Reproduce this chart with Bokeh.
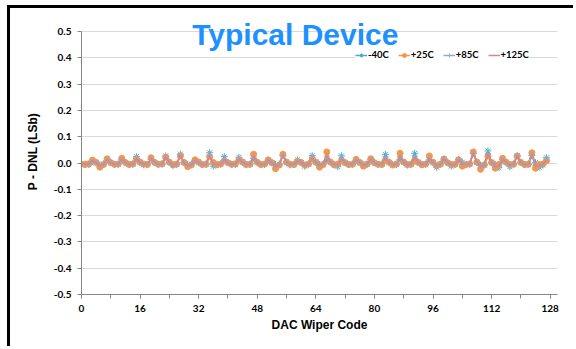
from bokeh.plotting import figure
from bokeh.models import Range1d, FixedTicker, PrintfTickFormatter, Legend, LegendItem, Label
from bokeh.embed import file_html
from bokeh.resources import INLINE

codes = list(range(128))

m40 = [
    -0.005, -0.004, -0.006, 0.006,
    0.001, -0.008, -0.004, 0.010,
    0.002, -0.006, -0.005, 0.012,
    0.001, -0.005, -0.004, 0.024,
    0.003, -0.007, -0.005, 0.014,
    0.002, -0.006, -0.004, 0.027,
    0.003, -0.010, -0.006, 0.034,
    0.002, -0.005, -0.004, 0.008,
    0.001, -0.006, -0.004, 0.039,
    -0.012, -0.005, -0.004, 0.024,
    0.002, -0.006, -0.005, 0.022,
    0.003, -0.007, -0.004, 0.018,
    0.001, -0.005, -0.006, 0.010,
    0.002, -0.006, -0.004, 0.028,
    0.001, -0.007, -0.005, 0.012,
    0.002, -0.012, -0.004, 0.028,
    0.003, -0.006, -0.005, 0.010,
    0.002, -0.005, -0.014, 0.027,
    0.001, -0.006, -0.004, 0.010,
    0.002, -0.007, -0.005, 0.012,
    0.003, -0.006, -0.004, 0.033,
    0.001, -0.005, -0.006, 0.014,
    0.002, -0.008, -0.004, 0.037,
    0.003, -0.006, -0.005, 0.012,
    0.001, -0.016, -0.004, 0.016,
    0.002, -0.012, -0.005, 0.014,
    0.003, -0.006, -0.004, 0.036,
    0.002, -0.008, -0.006, 0.046,
    0.001, -0.005, -0.018, 0.012,
    0.002, -0.014, -0.004, 0.028,
    0.003, -0.006, -0.005, 0.028,
    0.001, -0.016, -0.008, 0.020,
]

p25 = [
    -0.004, -0.006, -0.003, 0.011,
    0.002, -0.016, -0.006, 0.016,
    0.001, -0.005, -0.004, 0.018,
    0.002, -0.006, -0.004, 0.015,
    0.003, -0.004, -0.006, 0.020,
    0.002, -0.005, -0.003, 0.022,
    0.003, -0.006, -0.004, 0.027,
    0.002, -0.014, -0.008, 0.012,
    0.004, -0.006, -0.005, 0.024,
    0.002, -0.007, -0.004, 0.008,
    0.001, -0.005, -0.003, 0.012,
    0.004, -0.006, -0.005, 0.033,
    0.003, -0.006, -0.004, 0.012,
    0.001, -0.022, -0.008, 0.033,
    0.004, -0.005, -0.006, 0.006,
    0.002, -0.008, -0.004, 0.016,
    0.003, -0.016, -0.006, 0.042,
    0.004, -0.007, -0.004, 0.008,
    0.001, -0.006, -0.005, 0.014,
    0.002, -0.012, -0.004, 0.016,
    0.001, -0.005, -0.006, 0.010,
    0.003, -0.008, -0.004, 0.037,
    0.004, -0.006, -0.005, 0.010,
    0.002, -0.007, -0.004, 0.027,
    0.003, -0.010, -0.005, 0.014,
    0.001, -0.006, -0.005, 0.012,
    -0.012, -0.006, -0.004, 0.042,
    0.004, -0.024, -0.008, 0.026,
    0.002, -0.020, -0.006, 0.018,
    0.003, -0.006, -0.005, 0.026,
    0.002, -0.006, -0.005, 0.039,
    -0.020, -0.006, -0.004, 0.008,
]

p85 = [
    -0.004, -0.005, -0.004, 0.008,
    0.001, -0.010, -0.005, 0.012,
    0.002, -0.005, -0.004, 0.014,
    0.001, -0.006, -0.005, 0.018,
    0.002, -0.005, -0.005, 0.016,
    0.002, -0.006, -0.004, 0.022,
    0.002, -0.008, -0.005, 0.028,
    0.001, -0.010, -0.006, 0.010,
    0.002, -0.006, -0.005, 0.030,
    -0.006, -0.006, -0.004, 0.014,
    0.001, -0.005, -0.004, 0.016,
    0.003, -0.006, -0.005, 0.024,
    0.002, -0.005, -0.005, 0.011,
    0.001, -0.014, -0.006, 0.030,
    0.002, -0.006, -0.005, 0.009,
    0.002, -0.010, -0.004, 0.021,
    0.003, -0.010, -0.005, 0.026,
    0.003, -0.006, -0.009, 0.018,
    0.001, -0.006, -0.004, 0.012,
    0.002, -0.009, -0.005, 0.014,
    0.002, -0.006, -0.005, 0.022,
    0.002, -0.006, -0.005, 0.025,
    0.003, -0.007, -0.004, 0.024,
    0.002, -0.006, -0.005, 0.019,
    0.002, -0.012, -0.004, 0.015,
    0.001, -0.009, -0.005, 0.013,
    -0.005, -0.006, -0.004, 0.038,
    0.003, -0.016, -0.007, 0.036,
    0.001, -0.012, -0.012, 0.015,
    0.002, -0.010, -0.004, 0.027,
    0.002, -0.006, -0.005, 0.033,
    -0.009, -0.011, -0.006, 0.014,
]

p125 = [
    -0.003, -0.005, -0.003, 0.009,
    0.002, -0.011, -0.005, 0.013,
    0.001, -0.005, -0.004, 0.015,
    0.002, -0.006, -0.004, 0.017,
    0.002, -0.004, -0.005, 0.018,
    0.002, -0.005, -0.004, 0.021,
    0.003, -0.007, -0.005, 0.029,
    0.002, -0.011, -0.006, 0.011,
    0.003, -0.006, -0.005, 0.029,
    -0.005, -0.006, -0.004, 0.013,
    0.001, -0.005, -0.004, 0.015,
    0.003, -0.006, -0.005, 0.026,
    0.002, -0.006, -0.005, 0.012,
    0.001, -0.015, -0.006, 0.031,
    0.003, -0.005, -0.005, 0.008,
    0.002, -0.009, -0.004, 0.020,
    0.003, -0.011, -0.005, 0.028,
    0.003, -0.006, -0.008, 0.017,
    0.001, -0.005, -0.004, 0.012,
    0.002, -0.010, -0.005, 0.015,
    0.002, -0.005, -0.005, 0.020,
    0.002, -0.007, -0.005, 0.027,
    0.003, -0.007, -0.004, 0.022,
    0.002, -0.006, -0.005, 0.020,
    0.002, -0.011, -0.004, 0.015,
    0.001, -0.008, -0.006, 0.013,
    -0.006, -0.006, -0.004, 0.039,
    0.003, -0.017, -0.007, 0.034,
    0.001, -0.013, -0.011, 0.016,
    0.002, -0.009, -0.004, 0.027,
    0.002, -0.007, -0.005, 0.034,
    -0.010, -0.010, -0.006, 0.013,
]

series_names = ["-40C", "+25C", "+85C", "+125C"]
x_ticks = [0, 16, 32, 48, 64, 80, 96, 112, 128]
x_minor_ticks = [0, 8, 16, 24, 32, 40, 48, 56, 64, 72, 80, 88, 96, 104, 112, 120, 128]
y_ticks = [-0.5, -0.4, -0.3, -0.2, -0.1, 0.0, 0.1, 0.2, 0.3, 0.4, 0.5]
title_text = "Typical Device"
x_label = "DAC Wiper Code"
y_label = "P - DNL (LSb)"

TICK_FONT = "Lato"
LABEL_FONT = "Liberation Sans"

# frame extended above 0.5 so the title (which overlaps the top gridline) is not clipped
p = figure(width=566, height=341, output_backend="svg", toolbar_location=None,
           x_range=Range1d(0, 130), y_range=Range1d(-0.5, 0.5875),
           min_border_left=71, min_border_right=19, min_border_top=0, min_border_bottom=55)
p.styles = {"margin-left": "7px", "margin-top": "5px",
            "border-left": "3px solid black", "border-top": "3px solid black"}
p.background_fill_color = "white"
p.border_fill_color = "white"
p.outline_line_color = None

p.xgrid.visible = False
p.ygrid.grid_line_color = "#D9D9D9"
p.ygrid.grid_line_width = 1

xa = p.xaxis[0]
xa.ticker = FixedTicker(ticks=x_ticks, minor_ticks=x_minor_ticks)
xa.axis_line_color = "#868686"
xa.major_tick_line_color = "#868686"
xa.minor_tick_line_color = "#868686"
xa.major_tick_out = 4
xa.major_tick_in = 0
xa.minor_tick_out = 4
xa.minor_tick_in = 0
xa.major_label_standoff = 6
xa.major_label_text_font = TICK_FONT
xa.major_label_text_font_style = "bold"
xa.major_label_text_font_size = "10px"
xa.major_label_text_color = "black"
xa.axis_label = x_label
xa.axis_label_text_font = LABEL_FONT
xa.axis_label_text_font_style = "bold"
xa.axis_label_text_font_size = "12px"
xa.axis_label_text_color = "black"
xa.axis_label_standoff = 3

ya = p.yaxis[0]
ya.ticker = FixedTicker(ticks=y_ticks)
ya.bounds = (-0.5, 0.5)
ya.formatter = PrintfTickFormatter(format="%.1f")
ya.axis_line_color = "#868686"
ya.major_tick_line_color = "#868686"
ya.minor_tick_line_color = None
ya.major_tick_out = 4
ya.major_tick_in = 0
ya.major_label_standoff = 6
ya.major_label_text_font = TICK_FONT
ya.major_label_text_font_style = "bold"
ya.major_label_text_font_size = "10px"
ya.major_label_text_color = "black"
ya.axis_label = y_label
ya.axis_label_text_font = LABEL_FONT
ya.axis_label_text_font_style = "bold"
ya.axis_label_text_font_size = "12px"
ya.axis_label_text_color = "black"
ya.axis_label_standoff = 11

c1, c2, c3, c4 = "#4BACC6", "#F79646", "#8EA9DB", "#D98683"

l1 = p.line(codes, m40, line_color=c1, line_width=1.5)
s1 = p.scatter(codes, m40, marker="asterisk", size=7, line_color=c1, line_width=1)
l2 = p.line(codes, p25, line_color=c2, line_width=1.5)
s2 = p.scatter(codes, p25, marker="circle", size=6, line_color=c2, fill_color=c2)
l3 = p.line(codes, p85, line_color=c3, line_width=1.5)
s3 = p.scatter(codes, p85, marker="cross", size=6, line_color=c3, line_width=1)
l4 = p.line(codes, p125, line_color=c4, line_width=1.5)

legend = Legend(items=[
    LegendItem(label=series_names[0], renderers=[l1, s1]),
    LegendItem(label=series_names[1], renderers=[l2, s2]),
    LegendItem(label=series_names[2], renderers=[l3, s3]),
    LegendItem(label=series_names[3], renderers=[l4]),
], orientation="horizontal", location=(274, 234))
legend.glyph_width = 12
legend.glyph_height = 10
legend.label_height = 10
legend.label_standoff = 1
legend.spacing = 9
legend.padding = 10
legend.margin = 0
legend.border_line_color = None
legend.background_fill_color = "white"
legend.background_fill_alpha = 1
legend.label_text_font = TICK_FONT
legend.label_text_font_style = "bold"
legend.label_text_font_size = "9.5px"
legend.label_text_color = "black"
p.add_layout(legend, "center")

title = Label(x=58.4, y=0.487, text=title_text, text_align="center", text_baseline="alphabetic",
              text_font=LABEL_FONT, text_font_style="bold", text_font_size="30px",
              text_color="#1E90FF")
p.add_layout(title)

open("out.html", "w").write(file_html(p, INLINE))
